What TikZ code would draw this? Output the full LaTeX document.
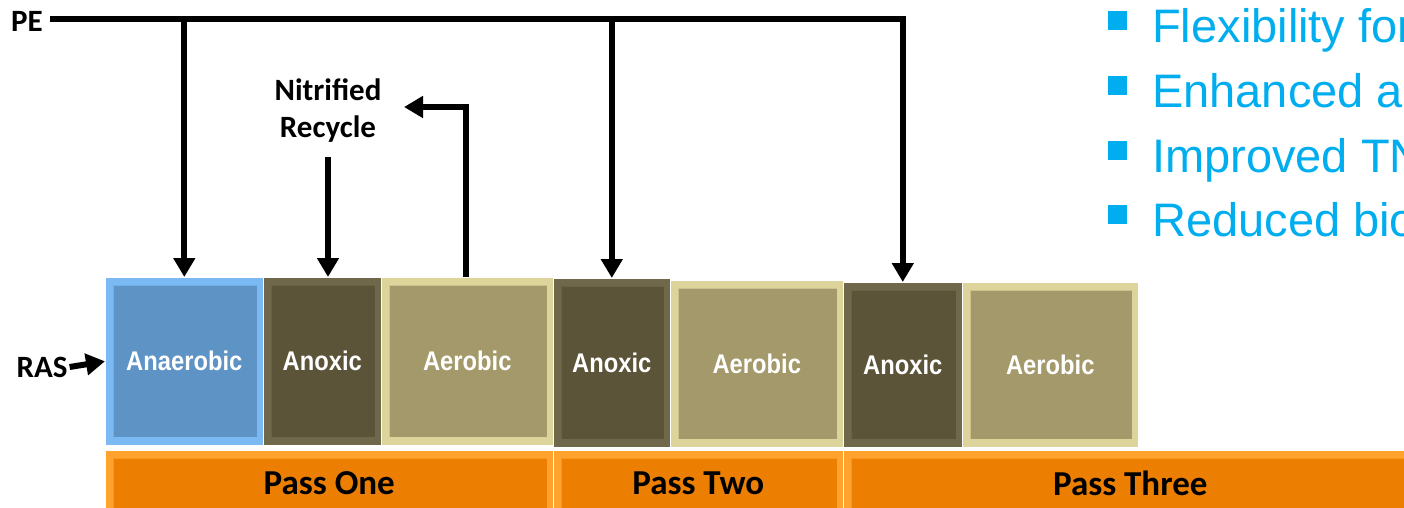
\documentclass[tikz,border=0pt]{standalone}
\usepackage{fontspec}
\usepackage{tikz}
\usetikzlibrary{arrows.meta}

\newfontfamily\calib{Carlito}
\newfontfamily\narrow[FakeStretch=0.88]{Liberation Sans}
\newfontfamily\arial{Liberation Sans}

\definecolor{anaerRim}{HTML}{7BB9F2}
\definecolor{anaerBody}{HTML}{5E93C5}
\definecolor{anoxRim}{HTML}{6F684B}
\definecolor{anoxBody}{HTML}{5C5439}
\definecolor{aerRim}{HTML}{DDD49C}
\definecolor{aerBody}{HTML}{A4996A}
\definecolor{passRim}{HTML}{FFA22E}
\definecolor{passBody}{HTML}{EC7F02}
\definecolor{bulletBlue}{HTML}{00AEEF}

\begin{document}
\begin{tikzpicture}[x=1pt,y=-1pt,
    pipe/.style={line width=6pt},
    tip/.style={-{Triangle[width=21pt,length=19pt]}},
    tank/.style 2 args={anchor=north west, inner sep=0pt, fill=#1, draw=white, line width=0.6pt,
      text=white, font=\narrow\bfseries\fontsize{27}{30}\selectfont,
      path picture={
        \fill[#2] ([shift={(8pt,-8pt)}]path picture bounding box.north west)
          rectangle ([shift={(-6pt,8pt)}]path picture bounding box.south east);
        \draw[#1, line width=1.2pt, opacity=0.7] ([shift={(8pt,-8pt)}]path picture bounding box.north west)
          rectangle ([shift={(-6pt,8pt)}]path picture bounding box.south east);
      }},
    passbar/.style={tank={passRim}{passBody}, text=black, font=\calib\bfseries\fontsize{35}{40}\selectfont,
      minimum height=66pt},
    label/.style={font=\calib\bfseries\fontsize{31}{37}\selectfont, align=center, inner sep=0pt}]

  \useasboundingbox (0,0) rectangle (1404,508);
  \clip (0,0) rectangle (1404,508);

  % tanks
  \path
    (105,277) node[tank={anaerRim}{anaerBody}, minimum width=158pt, minimum height=168pt] (anaer) {Anaerobic}
    (263,277) node[tank={anoxRim}{anoxBody}, minimum width=118pt, minimum height=168pt] (anox1) {Anoxic}
    (381,277) node[tank={aerRim}{aerBody}, minimum width=172pt, minimum height=168pt] (aer1) {Aerobic}

    (553,278) node[tank={anoxRim}{anoxBody}, minimum width=117pt, minimum height=169pt] (anox2) {Anoxic}
    (670,280) node[tank={aerRim}{aerBody}, minimum width=173pt, minimum height=167pt] (aer2) {Aerobic}

    (843,282) node[tank={anoxRim}{anoxBody}, minimum width=119pt, minimum height=165pt] (anox3) {Anoxic}
    (962,282) node[tank={aerRim}{aerBody}, minimum width=176pt, minimum height=165pt] (aer3) {Aerobic};

  % passes
  \path
    (105,450) node[passbar, minimum width=448pt] (pass1) {Pass One}
    (553,450) node[passbar, minimum width=290pt] (pass2) {Pass Two}
    (843,450) node[passbar, minimum width=574pt] (pass3) {Pass Three};

  % labels
  \node[label] (pe) at (27,21) {PE};
  \node[label] (nitr) at (328,111) {Nitrified\\Recycle};
  \node[label] (ras) at (42,367) {RAS};

  \coordinate (pestart) at (50,19);
  \coordinate (recyin) at (404,107);

  % primary effluent feed
  \draw[pipe, tip, line join=miter]
    (pestart) -| (anox3.north);
  \draw[pipe, tip]
    (anaer.north |- pestart) -- (anaer.north);
  \draw[pipe, tip]
    (anox2.north |- pestart) -- (anox2.north);

  % nitrified recycle
  \draw[pipe, tip]
    (328,157) -- (328,277);
  \draw[pipe, tip, line join=miter]
    (aer1.north -| 466,0) |- (recyin);

  % return activated sludge
  \draw[pipe, tip]
    (ras.east) ++(2pt,0) -- (anaer.west);

  % bullets
  \foreach \txt [count=\i] in {Flexibility for, Enhanced a, Improved TN, Reduced bio} {
    \node[fill=bulletBlue, minimum size=19pt, inner sep=0pt] (bul\i) at (1117.5, {21+64.5*(\i-1)}) {};
    \node[anchor=base west, inner sep=0pt, text=bulletBlue, font=\arial\fontsize{47}{50}\selectfont]
      (item\i) at (1152, {43+64.5*(\i-1)}) {\txt};
  }
\end{tikzpicture}
\end{document}
